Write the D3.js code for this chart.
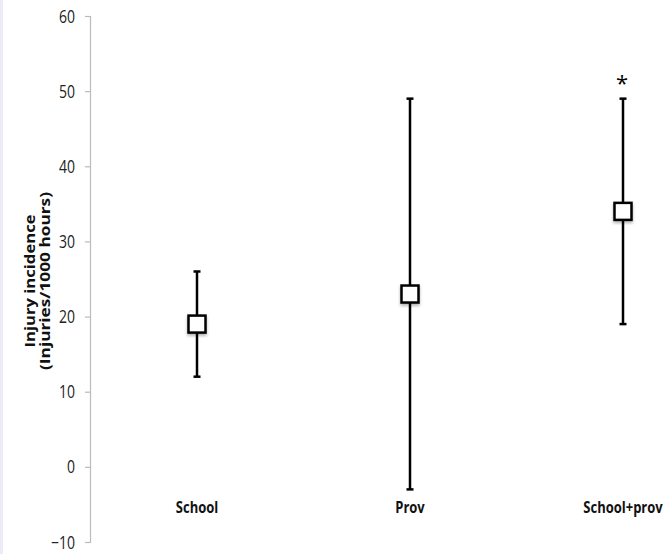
<!DOCTYPE html>
<html>
<head>
<meta charset="utf-8">
<script src="https://cdn.jsdelivr.net/npm/d3@7"></script>
<style>
  body { margin: 0; background: #fff; }
  svg { display: block; }
</style>
</head>
<body>
<svg id="chart" width="670" height="554"></svg>
<script>
// Chart data
const groups = ['School', 'Prov', 'School+prov'];
const incidence = [19, 23, 34];
const lower = [12, -3, 19];
const upper = [26, 49, 49];
const significant = [false, false, true];
const yTicks = [-10, 0, 10, 20, 30, 40, 50, 60];

const width = 670;
const height = 554;
const margin = { top: 16, right: 0, bottom: 12, left: 90 };
const font = '"Open Sans", sans-serif';

const svg = d3.select('#chart');

// faint strip on the left edge
svg.append('rect')
  .attr('x', 0).attr('y', 0)
  .attr('width', 3).attr('height', height)
  .attr('fill', '#ececf8');

const defs = svg.append('defs');
const shadow = defs.append('filter')
  .attr('id', 'shadow')
  .attr('x', '-30%').attr('y', '-30%')
  .attr('width', '160%').attr('height', '160%');
shadow.append('feDropShadow')
  .attr('dx', 0).attr('dy', 2)
  .attr('stdDeviation', 1.5)
  .attr('flood-color', '#000')
  .attr('flood-opacity', 0.3);

const y = d3.scaleLinear()
  .domain([-10, 60])
  .range([height - margin.bottom, margin.top]);

const x = d3.scalePoint()
  .domain(groups)
  .range([197, 623]);

// y axis
const yAxis = svg.append('g')
  .attr('transform', `translate(${margin.left},0)`)
  .call(d3.axisLeft(y).tickValues(yTicks).tickSize(5).tickPadding(0));
yAxis.selectAll('path, line').attr('stroke', '#bbb').attr('stroke-width', 1.2);
yAxis.selectAll('.tick text')
  .attr('x', null).attr('dy', null)
  .attr('transform', 'translate(-15,0) scale(1,1.25)')
  .attr('dy', '0.35em')
  .attr('font-family', font)
  .attr('font-size', 14)
  .attr('fill', '#222');

// y title, stretched along its length as in the original
const yMid = 281;
const title = svg.append('g')
  .attr('transform', `translate(0,${yMid}) rotate(-90)`)
  .attr('text-anchor', 'middle')
  .attr('font-family', font)
  .attr('font-size', 13.5)
  .attr('font-weight', 'bold')
  .attr('fill', '#111');
title.append('text')
  .attr('x', 0).attr('y', 35)
  .attr('textLength', 133).attr('lengthAdjust', 'spacingAndGlyphs')
  .text('Injury incidence');
title.append('text')
  .attr('x', 0).attr('y', 50)
  .attr('textLength', 178).attr('lengthAdjust', 'spacingAndGlyphs')
  .text('(Injuries/1000 hours)');

// category labels
svg.append('g')
  .selectAll('text')
  .data(groups)
  .join('text')
    .attr('transform', d => `translate(${x(d)},507) scale(1,1.25)`)
    .attr('dy', '0.35em')
    .attr('text-anchor', 'middle')
    .attr('font-family', font)
    .attr('font-size', 13)
    .attr('font-weight', 'bold')
    .attr('fill', '#111')
    .text(d => d);

// error bars
const bars = svg.append('g')
  .selectAll('g')
  .data(groups)
  .join('g');

bars.append('line')
  .attr('x1', d => x(d)).attr('x2', d => x(d))
  .attr('y1', (d, i) => y(upper[i]))
  .attr('y2', (d, i) => y(lower[i]))
  .attr('stroke', '#000').attr('stroke-width', 2.5);

[upper, lower].forEach(bound => {
  bars.append('line')
    .attr('x1', d => x(d) - 3.5).attr('x2', d => x(d) + 3.5)
    .attr('y1', (d, i) => y(bound[i]))
    .attr('y2', (d, i) => y(bound[i]))
    .attr('stroke', '#000').attr('stroke-width', 2.5);
});

// markers
const size = 17;
bars.append('rect')
  .attr('x', d => x(d) - size / 2)
  .attr('y', (d, i) => y(incidence[i]) - size / 2)
  .attr('width', size).attr('height', size)
  .attr('fill', '#fff')
  .attr('stroke', '#000').attr('stroke-width', 2.5)
  .attr('filter', 'url(#shadow)');

// significance marker
bars.filter(d => significant[groups.indexOf(d)])
  .append('text')
    .attr('x', d => x(d) - 1)
    .attr('y', d => y(upper[groups.indexOf(d)]) - 8)
    .attr('text-anchor', 'middle')
    .attr('font-family', font)
    .attr('font-size', 22)
    .attr('fill', '#000')
    .text('*');
</script>
</body>
</html>
